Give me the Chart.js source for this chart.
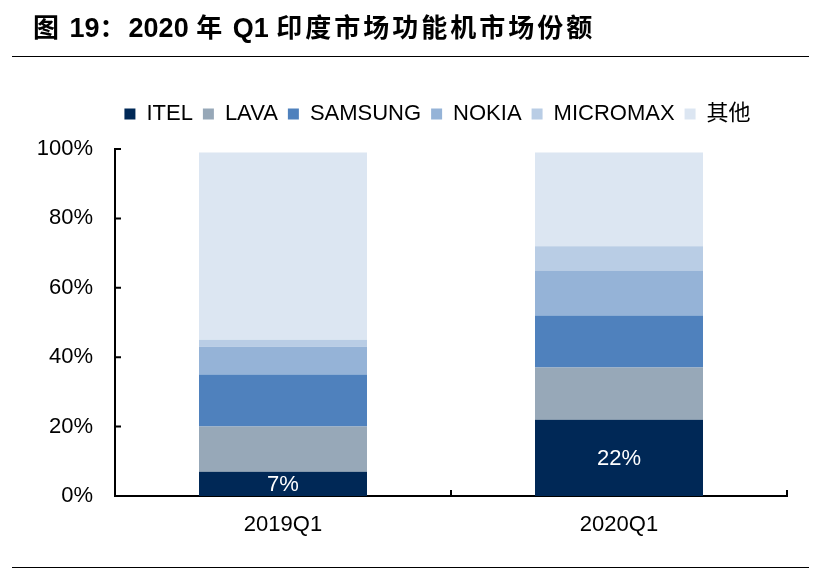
<!DOCTYPE html>
<html><head><meta charset="utf-8">
<script src="https://cdn.jsdelivr.net/npm/chart.js@4.4.0/dist/chart.umd.min.js"></script>
<style>
html,body{margin:0;padding:0;background:#fff;width:819px;height:572px;overflow:hidden;}
#title{position:absolute;left:33px;top:15px;font-family:"Liberation Sans","Noto Sans CJK SC",sans-serif;font-weight:bold;font-size:27px;line-height:26px;white-space:pre;color:#000;z-index:2;}
#title .cj{font-size:26px;letter-spacing:3px;}
.rule{position:absolute;left:12px;width:797px;height:0;border-top:1.5px solid #000;z-index:2;}
#wrap{position:absolute;left:0;top:0;width:819px;height:572px;}
</style></head><body>
<div id="title"><span class="cj">图</span> 19<span class="cj">：</span>2020 <span class="cj">年</span> Q1 <span class="cj">印度市场功能机市场份额</span></div>
<div class="rule" style="top:56px"></div>
<div class="rule" style="top:567px"></div>
<div id="wrap"><canvas id="c"></canvas></div>
<script>
const categories = ['2019Q1', '2020Q1'];
const seriesNames = ['ITEL', 'LAVA', 'SAMSUNG', 'NOKIA', 'MICROMAX', '其他'];
const itel = [7, 22];
const lava = [13, 15];
const samsung = [15, 15];
const nokia = [8, 13];
const micromax = [2, 7];
const others = [54, 27];
const yTickValues = [0, 20, 40, 60, 80, 100];
const seriesColors = ['#002856', '#97A8B8', '#4F81BD', '#95B3D7', '#B9CDE5', '#DCE6F2'];

const seriesValues = [itel, lava, samsung, nokia, micromax, others];
const FONT = '"Liberation Sans", "Noto Sans CJK SC", Arial, sans-serif';

const datasets = seriesNames.map((name, i) => ({
  label: name,
  data: seriesValues[i],
  backgroundColor: seriesColors[i],
  borderWidth: 0,
  barPercentage: 0.5,
  categoryPercentage: 1.0
}));

const innerTicks = {
  id: 'innerTicks',
  afterDraw(chart) {
    const ctx = chart.ctx;
    const xs = chart.scales.x, ys = chart.scales.y;
    const a = chart.chartArea;
    ctx.save();
    ctx.strokeStyle = '#000';
    ctx.lineWidth = 2;
    ctx.beginPath();
    yTickValues.forEach(v => {
      const y = ys.getPixelForValue(v);
      ctx.moveTo(a.left, y);
      ctx.lineTo(a.left + 6, y);
    });
    categories.forEach((c, i) => {
      const x = xs.getPixelForValue(i + 0.5);
      ctx.moveTo(x, a.bottom);
      ctx.lineTo(x, a.bottom - 6);
    });
    ctx.stroke();
    ctx.restore();
  }
};

const legendShift = {
  id: 'legendShift',
  afterLayout(chart) {
    const lg = chart.legend;
    if (lg) { lg.left += 29; lg.right += 29; }
  }
};

const itelLabels = {
  id: 'itelLabels',
  afterDatasetsDraw(chart) {
    const ctx = chart.ctx;
    const meta = chart.getDatasetMeta(0);
    ctx.save();
    ctx.fillStyle = '#fff';
    ctx.font = '22px ' + FONT;
    ctx.textAlign = 'center';
    ctx.textBaseline = 'middle';
    meta.data.forEach((el, i) => {
      ctx.fillText(itel[i] + '%', el.x, (el.y + el.base) / 2 + 1);
    });
    ctx.restore();
  }
};

new Chart(document.getElementById('c'), {
  type: 'bar',
  data: { labels: categories, datasets },
  options: {
    responsive: true,
    maintainAspectRatio: false,
    animation: false,
    layout: { padding: { left: 30, right: 32, top: 93, bottom: 36 } },
    plugins: {
      legend: {
        display: true,
        position: 'top',
        labels: {
          boxWidth: 11, boxHeight: 11, padding: 10,
          color: '#000',
          font: { family: FONT, size: 22 }
        }
      },
      title: {
        display: true, text: '', weight: 500,
        font: { size: 1, lineHeight: 1 },
        padding: { top: 13, bottom: 0 }
      },
      tooltip: { enabled: false }
    },
    scales: {
      x: {
        stacked: true,
        offset: true,
        grid: { display: false, drawTicks: false },
        border: { display: true, color: '#000', width: 2 },
        ticks: { color: '#000', padding: 16, font: { family: FONT, size: 22 } },
        afterFit(s) { s.height = 40; }
      },
      y: {
        stacked: true,
        min: 0, max: 100,
        grid: { display: false, drawTicks: false },
        border: { display: true, color: '#000', width: 2 },
        afterBuildTicks(s) { s.ticks = yTickValues.map(v => ({ value: v })); },
        ticks: {
          color: '#000', padding: 22,
          font: { family: FONT, size: 22 },
          callback: v => v + '%'
        },
        afterFit(s) { s.width = 85; }
      }
    }
  },
  plugins: [innerTicks, legendShift, itelLabels]
});
</script>
</body></html>
